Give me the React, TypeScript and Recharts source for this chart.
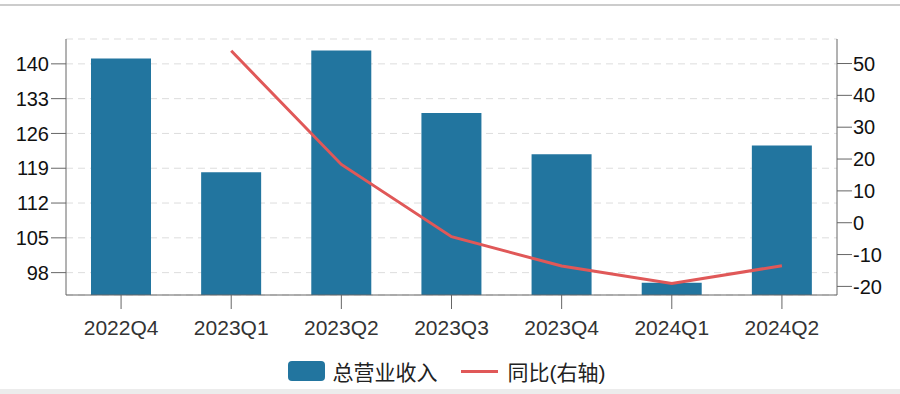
import React from 'react';
import { ComposedChart, Bar, Line, XAxis, YAxis, CartesianGrid, Legend } from 'recharts';

const categories = ['2022Q4', '2023Q1', '2023Q2', '2023Q3', '2023Q4', '2024Q1', '2024Q2'];
const revenue = [141.07, 118.2, 142.7, 130.1, 121.8, 95.95, 123.6];
const yoy: (number | null)[] = [null, 54.0, 18.3, -4.4, -13.6, -19.1, -13.5];
const leftTicks = [98, 105, 112, 119, 126, 133, 140];
const rightTicks = [-20, -10, 0, 10, 20, 30, 40, 50];

const data = categories.map((q, i) => ({ q, revenue: revenue[i], yoy: yoy[i] }));

const FONT = '"Liberation Sans", Arial, "Noto Sans CJK SC", sans-serif';
const BAR = '#22759f';
const LINE = '#e05858';

const LegendContent = () => (
  <div
    style={{
      height: 30,
      display: 'flex',
      alignItems: 'center',
      justifyContent: 'center',
      fontFamily: FONT,
      fontSize: 21,
      color: '#222',
      paddingRight: 7,
    }}
  >
    <span style={{ display: 'inline-block', width: 37, height: 20, borderRadius: 4, background: BAR }} />
    <span style={{ marginLeft: 8 }}>总营业收入</span>
    <span style={{ display: 'inline-block', width: 37, height: 3, background: LINE, marginLeft: 23 }} />
    <span style={{ marginLeft: 10 }}>同比(右轴)</span>
  </div>
);

export default function App() {
  return (
    <div style={{ position: 'absolute', left: 0, top: 0, width: 900, height: 394, background: '#fff', fontFamily: FONT }}>
      <div style={{ position: 'absolute', left: 0, top: 4, width: 900, height: 2, background: '#cccccc' }} />
      <div style={{ position: 'absolute', left: 0, top: 389, width: 900, height: 5, background: '#ececec' }} />
      <ComposedChart
        width={900}
        height={394}
        data={data}
        margin={{ top: 39, right: 0, bottom: 8, left: 0 }}
        barCategoryGap={0}
      >
        <CartesianGrid yAxisId="left" vertical={false} stroke="#dddddd" strokeDasharray="7 5" />
        <XAxis
          dataKey="q"
          height={61}
          tickSize={14}
          tickMargin={11}
          axisLine={{ stroke: '#666' }}
          tickLine={{ stroke: '#666' }}
          tick={{ fill: '#333', fontSize: 21, fontFamily: FONT }}
          interval={0}
        />
        <YAxis
          yAxisId="left"
          domain={[93.5, 145]}
          ticks={leftTicks}
          interval={0}
          allowDataOverflow
          width={66}
          tickSize={15}
          tickMargin={2}
          axisLine={{ stroke: '#666' }}
          tickLine={{ stroke: '#666' }}
          tick={{ fill: '#111', fontSize: 20, fontFamily: FONT }}
        />
        <YAxis
          yAxisId="right"
          orientation="right"
          domain={[-22.7, 57.7]}
          ticks={rightTicks}
          interval={0}
          allowDataOverflow
          width={63}
          tickSize={15}
          tickMargin={1}
          axisLine={{ stroke: '#666' }}
          tickLine={{ stroke: '#666' }}
          tick={{ fill: '#111', fontSize: 20, fontFamily: FONT }}
        />
        <Legend verticalAlign="bottom" height={30} content={<LegendContent />} />
        <Bar yAxisId="left" dataKey="revenue" name="总营业收入" fill={BAR} barSize={60} isAnimationActive={false} />
        <Line
          yAxisId="right"
          dataKey="yoy"
          name="同比(右轴)"
          type="linear"
          stroke={LINE}
          strokeWidth={3}
          dot={false}
          activeDot={false}
          isAnimationActive={false}
        />
      </ComposedChart>
    </div>
  );
}
